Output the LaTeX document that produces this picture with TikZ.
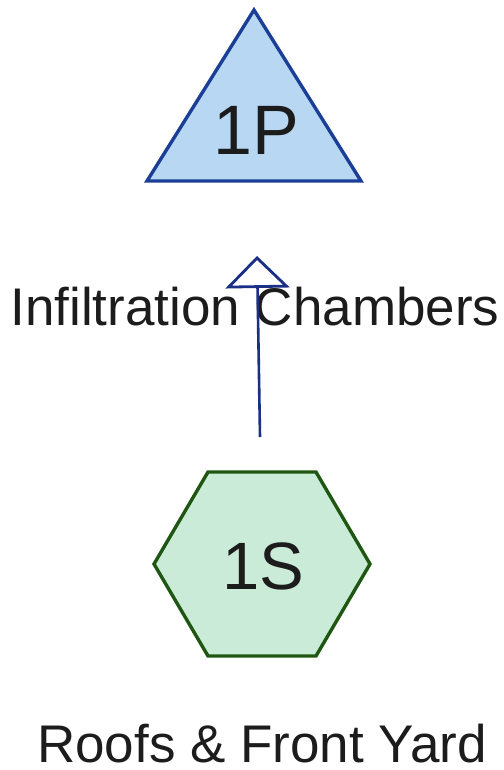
\documentclass[tikz,border=0pt]{standalone}
\usepackage{fontspec}
\setmainfont{Liberation Sans}
\usetikzlibrary{arrows.meta}
\definecolor{pondfill}{HTML}{B7D7F3}
\definecolor{pondline}{HTML}{1B3F96}
\definecolor{srcfill}{HTML}{CBEBD9}
\definecolor{srcline}{HTML}{1F5712}
\definecolor{flowline}{HTML}{1A2F86}
\definecolor{ink}{HTML}{1C1C1C}
\tikzset{
  pondshape/.style={fill=pondfill, draw=pondline, line width=3.4pt, line join=miter},
  srcshape/.style={fill=srcfill, draw=srcline, line width=3.4pt, line join=miter},
  idlabel/.style={text=ink, font=\fontsize{70}{70}\selectfont, inner sep=0pt},
  caption/.style={text=ink, font=\fontsize{53}{53}\selectfont, inner sep=0pt,
    anchor=base, text depth=0pt},
  flow/.style={draw=flowline, line width=2.6pt,
    -{Triangle[width=64pt,length=32pt,fill=white,line width=2.8pt]}}
}
\begin{document}
\begin{tikzpicture}[x=1pt,y=-1pt]
  \useasboundingbox (0,0) rectangle (503,770);
  % storage (triangle)
  \draw[pondshape] (254,10) -- (361,181) -- (147,181) -- cycle;
  \node[idlabel] (p1) at (256,130) {1P};
  % source (hexagon)
  \draw[srcshape] (208,472) -- (316,472) -- (370,564) -- (316,656) -- (208,656) -- (154,564) -- cycle;
  \node[idlabel, font=\fontsize{67}{67}\selectfont] (s1) at (263,566) {1S};
  % captions
  \node[caption] (pcap) at (255,325) {Infiltration Chambers};
  \node[caption] (scap) at (262,762) {Roofs \& Front Yard};
  % flow from source to storage
  \coordinate (flowstart) at (260,437);
  \coordinate (flowend) at (257,256);
  \draw[flow] (flowstart) -- (flowend);
\end{tikzpicture}
\end{document}
